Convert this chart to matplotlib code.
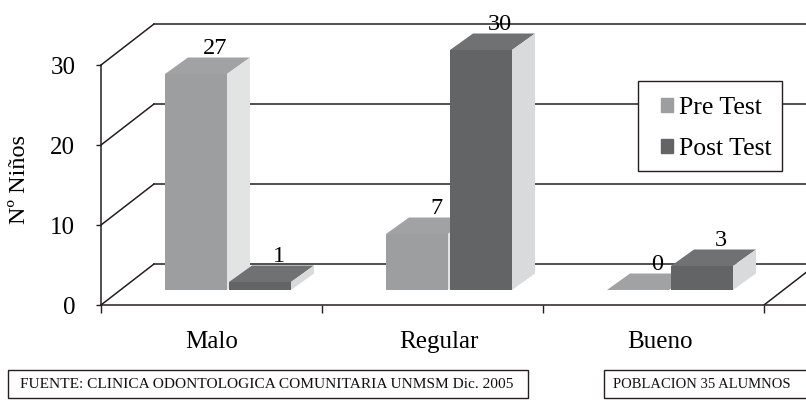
import matplotlib
matplotlib.use('Agg')
import matplotlib.pyplot as plt
from matplotlib.patches import Polygon, Rectangle

plt.rcParams['font.family'] = ['Liberation Serif', 'DejaVu Serif']

categorias = ['Malo', 'Regular', 'Bueno']
pre_test = [27, 7, 0]
post_test = [1, 30, 3]
ticks_y = [0, 10, 20, 30]

W, H = 806, 400
PX_X = 221.0  # pixeles por categoria
PX_Y = 8.0    # pixeles por nino

# profundidad de la pared y de las barras, en unidades de datos
wall_dx, wall_dy = 53 / PX_X, 41 / PX_Y
bar_dx, bar_dy = 23 / PX_X, 16.5 / PX_Y
piso = 15 / PX_Y
ancho = 62 / PX_X

GRIS = ('#9d9e9f', '#a1a2a3', '#e2e3e3')
OSCURO = ('#636466', '#707173', '#d9dadb')
LINEA = '#231f20'


def dibujar_barra(ax, x, v, colores):
    """barra con cara superior y lateral"""
    frente, arriba, lado = colores
    top = piso + v
    ax.bar(x, v, width=ancho, bottom=piso, align='edge', color=frente, zorder=3)
    ax.add_patch(Polygon([(x, top), (x + bar_dx, top + bar_dy),
                          (x + ancho + bar_dx, top + bar_dy), (x + ancho, top)],
                         closed=True, facecolor=arriba, edgecolor='none', zorder=3))
    ax.add_patch(Polygon([(x + ancho, piso), (x + ancho + bar_dx, piso + bar_dy),
                          (x + ancho + bar_dx, top + bar_dy), (x + ancho, top)],
                         closed=True, facecolor=lado, edgecolor='none', zorder=3))


def etiqueta(ax, x, v):
    ax.annotate(str(v), (x + ancho / 2 + bar_dx, piso + v + bar_dy), xytext=(-4, 4),
                textcoords='offset pixels', ha='center', va='baseline',
                fontsize=17.5, color='black', zorder=5)


fig = plt.figure(figsize=(W / 100, H / 100), dpi=100)
ax = fig.add_axes([101 / W, 95 / H, 705 / W, 305 / H])
ax.set_xlim(0, 705 / PX_X)
ax.set_ylim(0, 305 / PX_Y)
ax.patch.set_alpha(0)

# paredes
for v in ticks_y:
    ax.plot([0, wall_dx], [v, v + wall_dy], color=LINEA, lw=1.1, zorder=1, clip_on=False)
    ax.plot([wall_dx, 705 / PX_X], [v + wall_dy, v + wall_dy], color=LINEA, lw=1.1, zorder=1)
ax.plot([3, 3 + wall_dx], [0, wall_dy], color=LINEA, lw=1.1, zorder=1)

# barras
for i in range(len(categorias)):
    x_pre = i + 64 / PX_X
    x_post = x_pre + 64 / PX_X
    dibujar_barra(ax, x_pre, pre_test[i], GRIS)
    dibujar_barra(ax, x_post, post_test[i], OSCURO)
    etiqueta(ax, x_pre, pre_test[i])
    etiqueta(ax, x_post, post_test[i])

for s in ['top', 'right']:
    ax.spines[s].set_visible(False)
ax.spines['left'].set_bounds(0, 30)
ax.spines['left'].set_color(LINEA)
ax.spines['bottom'].set_color(LINEA)
ax.spines['left'].set_linewidth(1.1)
ax.spines['bottom'].set_linewidth(1.1)

ax.set_yticks(ticks_y)
ax.set_xticks([0, 1, 2, 3])
ax.set_xticklabels([])
ax.tick_params(axis='y', length=3.5, width=1.0, color=LINEA, labelsize=18, pad=15)
ax.tick_params(axis='x', length=6, width=1.0, color=LINEA)

for i, c in enumerate(categorias):
    ax.annotate(c, (i + 0.5, 0), xytext=([0, 6, 6][i], -43), textcoords='offset pixels',
                ha='center', va='baseline', fontsize=18, annotation_clip=False)

fig.text(20 / W, 1 - 180 / H, 'Nº Niños', rotation=90, ha='center', va='center', fontsize=17.5)

# leyenda: la caja va aparte porque el margen no es igual en los lados
ax.add_patch(Rectangle((638 / W, 1 - 171 / H), 144 / W, 90 / H, facecolor='white',
                       edgecolor=LINEA, lw=1.0, transform=fig.transFigure, zorder=5,
                       clip_on=False))
h1 = Rectangle((0, 0), 1, 1, color=GRIS[0])
h2 = Rectangle((0, 0), 1, 1, color=OSCURO[0])
ley = ax.legend([h1, h2], ['Pre Test', 'Post Test'], loc='upper left',
                bbox_to_anchor=(661 / W, 1 - 97 / H), bbox_transform=fig.transFigure,
                fontsize=18.5, frameon=False, handlelength=0.45, handleheight=0.45,
                handletextpad=0.25, labelspacing=0.75, borderpad=0, borderaxespad=0)
ley.set_zorder(6)

# cajas de fuente
for x0, x1, txt, tx, fs in [(8, 528, 'FUENTE: CLINICA ODONTOLOGICA COMUNITARIA UNMSM Dic. 2005', 20, 11.1),
                            (604, 810, 'POBLACION 35 ALUMNOS', 613, 10.5)]:
    fig.add_artist(Rectangle((x0 / W, 1 - 398 / H), (x1 - x0) / W, 28 / H, facecolor='white',
                             edgecolor=LINEA, lw=1.0, transform=fig.transFigure))
    fig.text(tx / W, 1 - 385 / H, txt, ha='left', va='center', fontsize=fs, color='#111111')

fig.savefig('out.png', dpi=100)
